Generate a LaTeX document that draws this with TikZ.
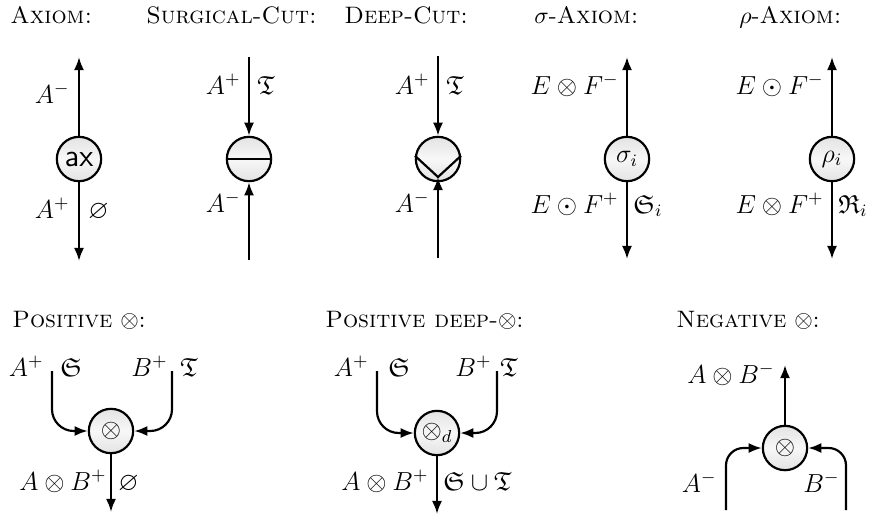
\documentclass[tikz,border=0pt,12pt]{standalone}
\usepackage{amsmath,amssymb}
\usetikzlibrary{arrows.meta}
\tikzset{
  wire/.style={line width=1.0pt},
  tip/.style={-{Latex[length=6pt,width=4.6pt]}},
  gate/.style={circle,draw,line width=1.0pt,minimum size=20.4pt,inner sep=0pt,
    top color=gray!22,bottom color=gray!22,middle color=gray!6},
  le/.style={inner sep=0pt,anchor=base east},
  lw/.style={inner sep=0pt,anchor=base west},
  ttl/.style={inner sep=0pt,anchor=base west,font=\small},
}
\begin{document}
\begin{tikzpicture}[x=0.46pt,y=-0.46pt]
\useasboundingbox (0,0) rectangle (877,516);
% titles
\node[ttl] (t1) at (10,23) {\textsc{Axiom:}};
\node[ttl] (t2) at (146,23) {\textsc{Surgical-Cut:}};
\node[ttl] (t3) at (344,23) {\textsc{Deep-Cut:}};
\node[ttl] (t4) at (534,23) {$\sigma$-\textsc{Axiom:}};
\node[ttl] (t5) at (739,23) {$\rho$-\textsc{Axiom:}};
\node[ttl] (t6) at (12,327) {\textsc{Positive} $\otimes$:};
\node[ttl] (t7) at (325,327) {\textsc{Positive deep-}$\otimes$:};
\node[ttl] (t8) at (676,327) {\textsc{Negative} $\otimes$:};
% Axiom
\node[gate] (ax) at (79,159) {\large\textsf{ax}};
\coordinate (axT) at (79,57);
\coordinate (axB) at (79,261);
\draw[wire,tip] (ax) -- (axT);
\draw[wire,tip] (ax) -- (axB);
\node[le] (axl1) at (70,103) {$A^-$};
\node[le] (axl2) at (70,218) {$A^+$};
\node[lw] (axl3) at (88,218) {$\varnothing$};
% Surgical cut
\node[gate] (sc) at (249,159) {};
\draw[wire] (sc.west) -- (sc.east);
\coordinate (scT) at (249,57);
\coordinate (scB) at (249,260);
\draw[wire,tip] (scT) -- (sc);
\draw[wire,tip] (scB) -- (sc);
\node[le] (scl1) at (241,94) {$A^+$};
\node[lw] (scl2) at (257,94) {$\mathfrak{T}$};
\node[le] (scl3) at (241,212) {$A^-$};
% Deep cut
\node[gate] (dc) at (438,159) {};
\coordinate (dcV) at (438,177);
\draw[wire] (dc.172) -- (dcV) -- (dc.8);
\coordinate (dcT) at (438,56);
\coordinate (dcB) at (438,258);
\draw[wire,tip] (dcT) -- (dc);
\draw[wire,tip] (dcB) -- (dcV);
\node[le] (dcl1) at (430,94) {$A^+$};
\node[lw] (dcl2) at (446,94) {$\mathfrak{T}$};
\node[le] (dcl3) at (430,212) {$A^-$};
% sigma axiom
\node[gate] (sig) at (627,159) {$\sigma_i$};
\coordinate (sigT) at (627,57);
\coordinate (sigB) at (627,259);
\draw[wire,tip] (sig) -- (sigT);
\draw[wire,tip] (sig) -- (sigB);
\node[le] (sigl1) at (619,94) {$E\otimes F^-$};
\node[le] (sigl2) at (619,213) {$E\odot F^+$};
\node[lw] (sigl3) at (633,213) {$\mathfrak{S}_i$};
% rho axiom
\node[gate] (rho) at (832,159) {$\rho_i$};
\coordinate (rhoT) at (832,57);
\coordinate (rhoB) at (832,259);
\draw[wire,tip] (rho) -- (rhoT);
\draw[wire,tip] (rho) -- (rhoB);
\node[le] (rhol1) at (824,94) {$E\odot F^-$};
\node[le] (rhol2) at (824,213) {$E\otimes F^+$};
\node[lw] (rhol3) at (838,213) {$\mathfrak{R}_i$};
% Positive tensor
\node[gate] (pos) at (111,431) {$\otimes$};
\coordinate (pA) at (52,371);
\coordinate (pB) at (172,371);
\coordinate (pO) at (111,512);
\draw[wire,tip,rounded corners=10pt] (pA) |- (pos.west);
\draw[wire,tip,rounded corners=10pt] (pB) |- (pos.east);
\draw[wire,tip] (pos) -- (pO);
\node[le] (pl1) at (44,376) {$A^+$};
\node[lw] (pl2) at (60,376) {$\mathfrak{S}$};
\node[le] (pl3) at (168,376) {$B^+$};
\node[lw] (pl4) at (180,376) {$\mathfrak{T}$};
\node[le] (pl5) at (107,490) {$A\otimes B^+$};
\node[lw] (pl6) at (118,490) {$\varnothing$};
% Positive deep tensor
\node[gate] (pd) at (437,433) {$\otimes_d$};
\coordinate (dA) at (377,371);
\coordinate (dB) at (497,371);
\coordinate (dO) at (437,514);
\draw[wire,tip,rounded corners=10pt] (dA) |- (pd.west);
\draw[wire,tip,rounded corners=10pt] (dB) |- (pd.east);
\draw[wire,tip] (pd) -- (dO);
\node[le] (dl1) at (369,376) {$A^+$};
\node[lw] (dl2) at (388,376) {$\mathfrak{S}$};
\node[le] (dl3) at (492,376) {$B^+$};
\node[lw] (dl4) at (500,376) {$\mathfrak{T}$};
\node[le] (dl5) at (429,490) {$A\otimes B^+$};
\node[lw] (dl6) at (443,490) {$\mathfrak{S}\cup\mathfrak{T}$};
% Negative tensor
\node[gate] (neg) at (785,448) {$\otimes$};
\coordinate (nO) at (785,365);
\coordinate (nA) at (726,510);
\coordinate (nB) at (846,510);
\draw[wire,tip] (neg) -- (nO);
\draw[wire,tip,rounded corners=8pt] (nA) |- (neg.west);
\draw[wire,tip,rounded corners=8pt] (nB) |- (neg.east);
\node[le] (nl1) at (775,383) {$A\otimes B^-$};
\node[le] (nl2) at (717,492) {$A^-$};
\node[lw] (nl3) at (803,492) {$B^-$};
\end{tikzpicture}
\end{document}
